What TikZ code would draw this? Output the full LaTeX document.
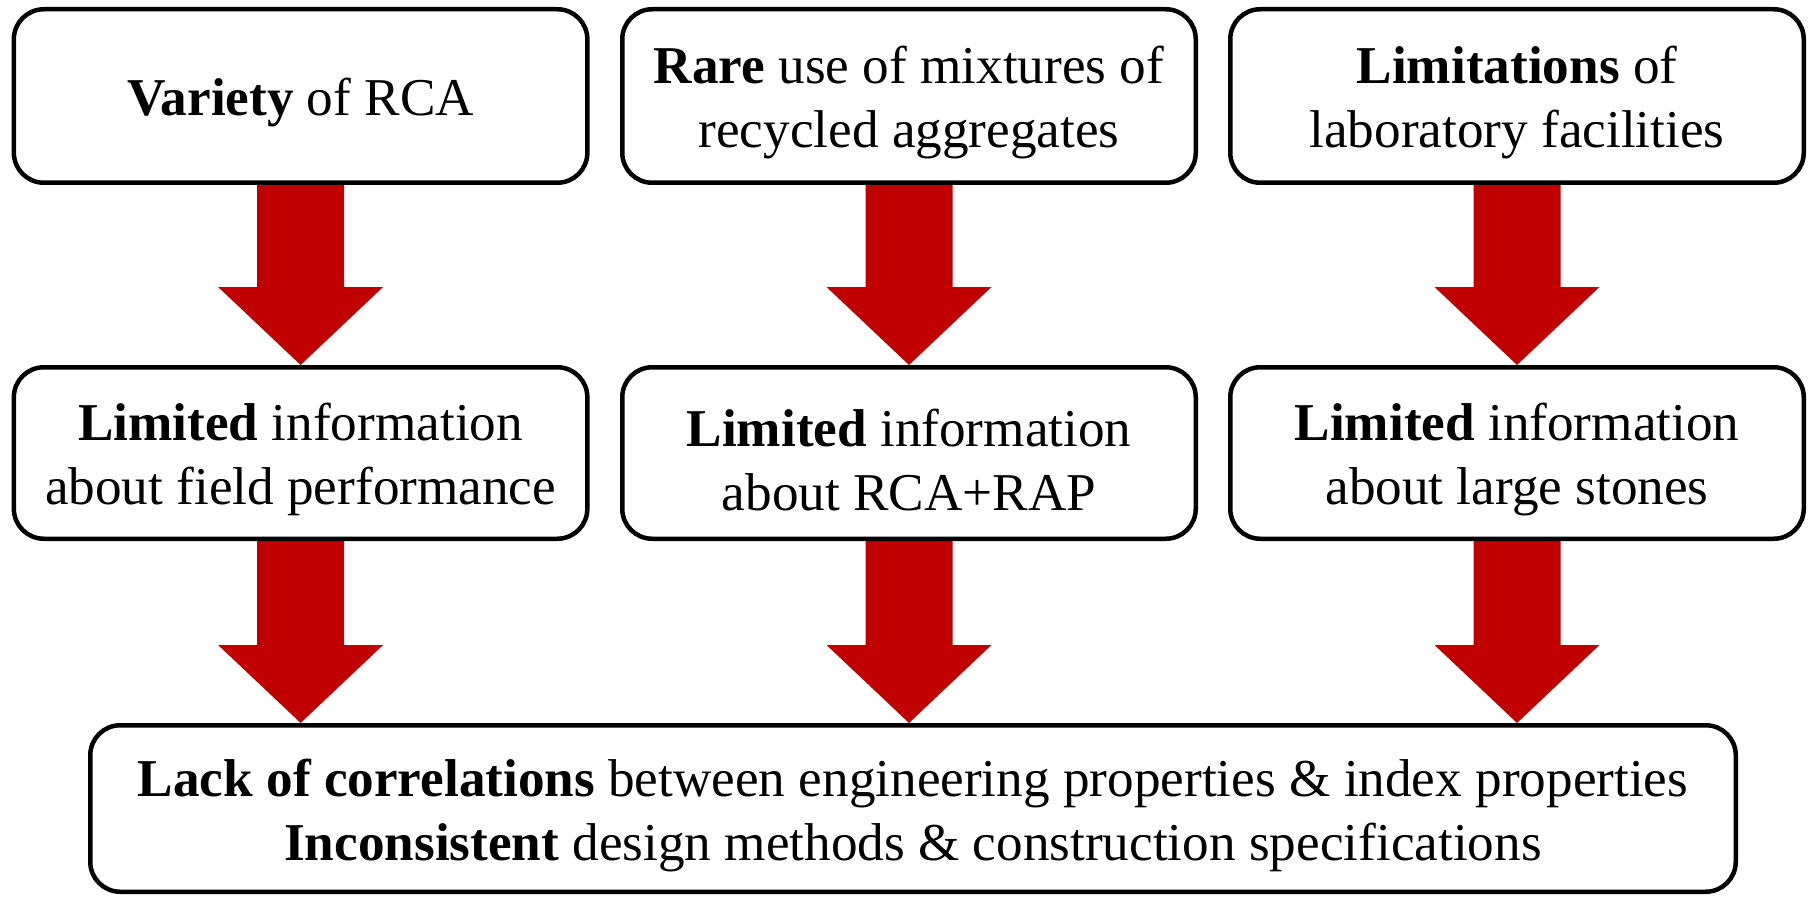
\documentclass[tikz,border=0pt]{standalone}
\usepackage{fontspec}
\setmainfont{Liberation Serif}
\usetikzlibrary{calc}
\pgfdeclarelayer{background}
\pgfsetlayers{background,main}
\definecolor{arrred}{RGB}{192,0,0}
\tikzset{
  box/.style={draw=black, line width=2.25pt, rounded corners=15pt, fill=white},
  txt/.style={align=center, inner sep=0pt, yshift=-3.3pt, font=\fontsize{26.6}{32}\selectfont},
  topbox/.style={box, minimum width=286.75pt, minimum height=86.75pt},
  midbox/.style={box, minimum width=286.75pt, minimum height=85.75pt},
  botbox/.style={box, minimum width=822.75pt, minimum height=83.25pt},
  arrowfill/.style={fill=arrred, draw=none}
}
\newcommand{\bigarrow}[2]{%
  \fill[arrowfill] ($(#1.south)+(-43.5,0)$) -- ($(#1.south)+(43.5,0)$)
    -- ($(#1.south |- #2.north)+(43.5,78)$) -- ($(#1.south |- #2.north)+(82.5,78)$)
    -- (#1.south |- #2.north)
    -- ($(#1.south |- #2.north)+(-82.5,78)$) -- ($(#1.south |- #2.north)+(-43.5,78)$) -- cycle;}
\begin{document}
\begin{tikzpicture}[x=0.5pt,y=0.5pt]
\useasboundingbox (0,0) rectangle (1813,896);
% top row
\node[topbox, label={[txt]center:{\textbf{Variety} of RCA}}] (a1) at (300.6,800) {};
\node[topbox, label={[txt]center:{\textbf{Rare} use of mixtures of\\recycled aggregates}}] (a2) at (909,800) {};
\node[topbox, label={[txt]center:{\textbf{Limitations} of\\laboratory facilities}}] (a3) at (1517,800) {};
% middle row
\node[midbox, label={[txt]center:{\textbf{Limited} information\\about field performance}}] (b1) at (300.6,443) {};
\node[midbox, label={[txt]center:{\textbf{Limited} information\\about RCA+RAP}}] (b2) at (909,443) {};
\node[midbox, label={[txt]center:{\textbf{Limited} information\\about large stones}}] (b3) at (1517,443) {};
% bottom
\node[botbox, label={[txt]center:{\textbf{Lack of correlations} between engineering properties \& index properties\\\textbf{Inconsistent} design methods \& construction specifications}}] (c) at (913,87.5) {};
\begin{pgfonlayer}{background}
\bigarrow{a1}{b1}
\bigarrow{a2}{b2}
\bigarrow{a3}{b3}
\bigarrow{b1}{c}
\bigarrow{b2}{c}
\bigarrow{b3}{c}
\end{pgfonlayer}
\end{tikzpicture}
\end{document}
